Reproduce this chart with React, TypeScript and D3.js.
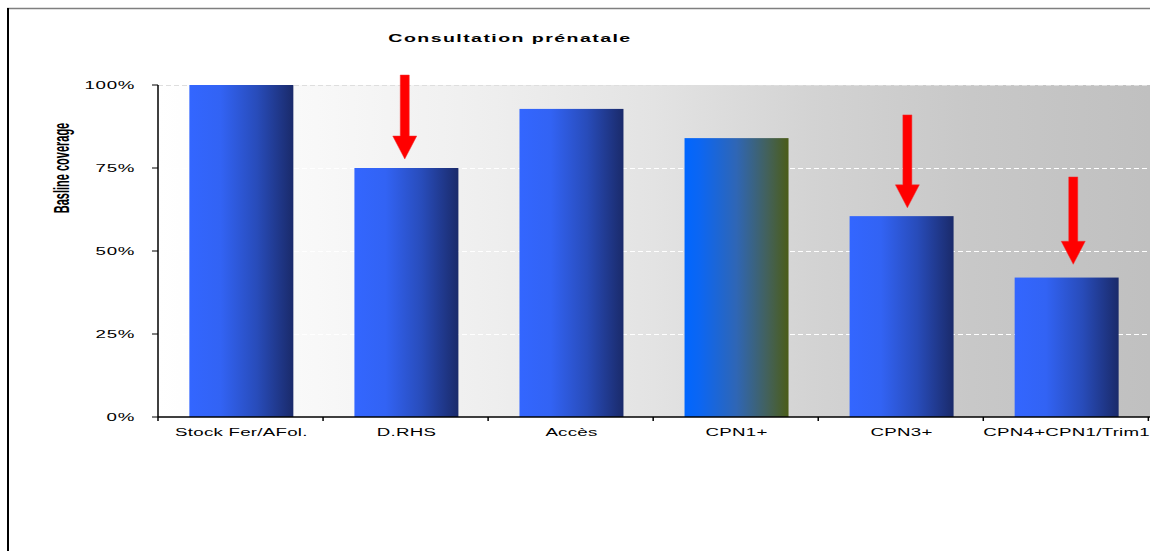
import React from "react";
import * as d3 from "d3";

// Categories and baseline coverage values (share of 1)
const categories = [
  "Stock Fer/AFol.",
  "D.RHS",
  "Accès",
  "CPN1+",
  "CPN3+",
  "CPN4+CPN1/Trim1",
];
const coverage = [1.0, 0.75, 0.928, 0.84, 0.605, 0.42];
// bar gradient used per category
const barStyle = ["blue", "blue", "blue", "olive", "blue", "blue"];

const yTicks = [0, 0.25, 0.5, 0.75, 1.0];

// Red drop markers: category, start value, tip value, shift within band
const dropCategories = ["D.RHS", "CPN3+", "CPN4+CPN1/Trim1"];
const dropFrom = [1.03, 0.91, 0.723];
const dropTo = [0.777, 0.63, 0.46];
const dropShift = [-0.01, 0.035, 0.04];

const title = "Consultation prénatale";
const yTitle = "Basline coverage";

const W = 1150;
const H = 551;
const margin = { left: 158, top: 85, right: 0, bottom: 134 };
const SX = 1.7; // horizontal text stretch
const FONT = "'Liberation Sans', Arial, sans-serif";

export default function App() {
  const x = d3
    .scaleBand<string>()
    .domain(categories)
    .range([margin.left, W - margin.right])
    .paddingInner(0.37)
    .paddingOuter(0.19);
  const y = d3
    .scaleLinear()
    .domain([0, 1])
    .range([H - margin.bottom, margin.top]);

  const step = x.step();
  const x0 = margin.left;
  const x1 = W - margin.right;
  const y0 = y(0);
  const yTop = y(1);
  const bounds = d3.range(categories.length + 1).map((i) => x0 + i * step);

  return (
    <svg
      width={W}
      height={H}
      style={{ position: "absolute", left: 0, top: 0, background: "#fff" }}
    >
      <defs>
        <linearGradient id="plotBg" x1="0" y1="0" x2="1" y2="0">
          <stop offset="0" stopColor="#ffffff" />
          <stop offset="0.16" stopColor="#f8f8f8" />
          <stop offset="0.34" stopColor="#eeeeee" />
          <stop offset="0.5" stopColor="#e3e3e3" />
          <stop offset="0.66" stopColor="#d3d3d3" />
          <stop offset="0.82" stopColor="#c8c8c8" />
          <stop offset="1" stopColor="#c0c0c0" />
        </linearGradient>
        <linearGradient id="barBlue" x1="0" y1="0" x2="1" y2="0">
          <stop offset="0" stopColor="#3366ff" />
          <stop offset="0.3" stopColor="#3263f4" />
          <stop offset="0.65" stopColor="#284cba" />
          <stop offset="1" stopColor="#1a2a6a" />
        </linearGradient>
        <linearGradient id="barOlive" x1="0" y1="0" x2="1" y2="0">
          <stop offset="0" stopColor="#0066ff" />
          <stop offset="0.15" stopColor="#0c66f2" />
          <stop offset="0.5" stopColor="#2f66b5" />
          <stop offset="0.8" stopColor="#43615a" />
          <stop offset="1" stopColor="#4b5c18" />
        </linearGradient>
      </defs>

      {/* frame */}
      <line x1={7} x2={W} y1={8.5} y2={8.5} stroke="#7f7f7f" strokeWidth={1.5} />
      <line x1={8} x2={8} y1={8} y2={H} stroke="#000" strokeWidth={2} />

      {/* title */}
      <g transform={`translate(${510},${42}) scale(${SX},1)`}>
        <text
          textAnchor="middle"
          fontFamily={FONT}
          fontWeight="bold"
          fontSize={11.5}
          letterSpacing={0.85}
          fill="#000"
        >
          {title}
        </text>
      </g>

      {/* plot background */}
      <rect x={x0} y={yTop} width={x1 - x0} height={y0 - yTop} fill="url(#plotBg)" />

      {/* gridlines */}
      {yTicks
        .filter((t) => t > 0)
        .map((t) => (
          <line
            key={t}
            x1={x0}
            x2={x1}
            y1={y(t) + 0.5}
            y2={y(t) + 0.5}
            stroke={t === 1 ? "#dedede" : "#ffffff"}
            strokeWidth={1}
            strokeDasharray="5,3"
          />
        ))}

      {/* bars */}
      {categories.map((c, i) => (
        <rect
          key={c}
          x={x(c)}
          y={y(coverage[i])}
          width={x.bandwidth()}
          height={y0 - y(coverage[i])}
          fill={barStyle[i] === "olive" ? "url(#barOlive)" : "url(#barBlue)"}
        />
      ))}

      {/* y axis */}
      <line x1={x0} x2={x0} y1={yTop} y2={y0} stroke="#000" strokeWidth={1.5} />
      {yTicks.map((t) => (
        <g key={t}>
          <line x1={x0 - 6} x2={x0} y1={y(t)} y2={y(t)} stroke="#000" strokeWidth={1} />
          <g transform={`translate(${135},${y(t) + 4}) scale(${SX},1)`}>
            <text
              textAnchor="end"
              fontFamily={FONT}
              fontSize={11}
              letterSpacing={0.4}
              fill="#000"
            >
              {d3.format(".0%")(t)}
            </text>
          </g>
        </g>
      ))}

      {/* x axis */}
      <line x1={x0} x2={x1} y1={y0} y2={y0} stroke="#000" strokeWidth={1.5} />
      {bounds.map((b, i) => (
        <line key={i} x1={b} x2={b} y1={y0} y2={y0 + 4} stroke="#000" strokeWidth={1.5} />
      ))}
      {categories.map((c) => (
        <g
          key={c}
          transform={`translate(${(x(c) as number) + x.bandwidth() / 2},${436}) scale(${SX},1)`}
        >
          <text
            textAnchor="middle"
            fontFamily={FONT}
            fontSize={11}
            letterSpacing={0.15}
            fill="#000"
          >
            {c}
          </text>
        </g>
      ))}

      {/* y axis title */}
      <g transform={`translate(${69},${168}) scale(1.95,1) rotate(-90)`}>
        <text textAnchor="middle" fontFamily={FONT} fontWeight="bold" fontSize={11} fill="#000">
          {yTitle}
        </text>
      </g>

      {/* drop arrows */}
      {dropCategories.map((c, i) => {
        const cx = (x(c) as number) + x.bandwidth() / 2 + dropShift[i] * step;
        const ys = y(dropFrom[i]);
        const yt = y(dropTo[i]);
        const headH = 23;
        const headW = 12;
        const shaftW = 4.5;
        const path = d3.path();
        path.moveTo(cx - shaftW, ys);
        path.lineTo(cx + shaftW, ys);
        path.lineTo(cx + shaftW, yt - headH);
        path.lineTo(cx + headW, yt - headH);
        path.lineTo(cx, yt);
        path.lineTo(cx - headW, yt - headH);
        path.lineTo(cx - shaftW, yt - headH);
        path.closePath();
        return <path key={c} d={path.toString()} fill="#ff0000" stroke="#f03030" strokeWidth={0.5} />;
      })}
    </svg>
  );
}
